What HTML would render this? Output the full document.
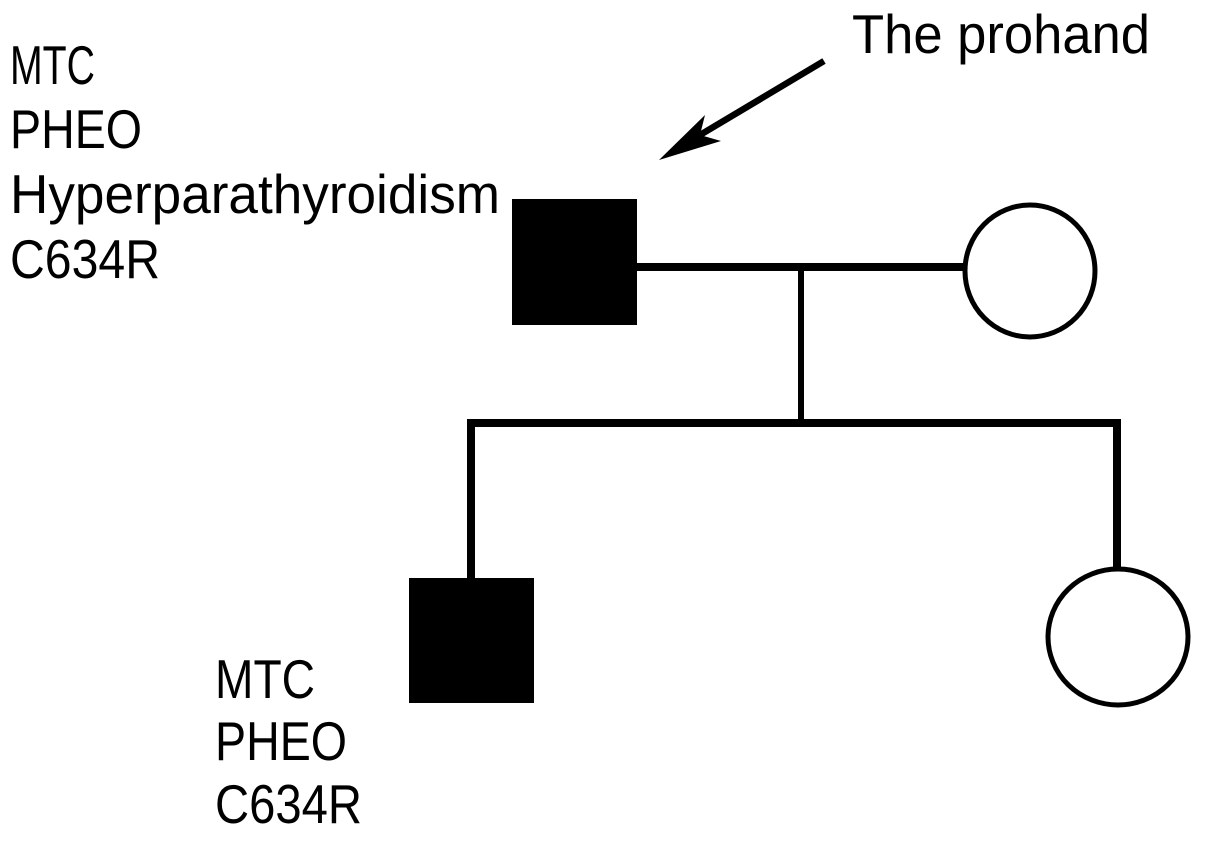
<!DOCTYPE html>
<html><head><meta charset="utf-8"><style>html,body{margin:0;padding:0;background:#fff}svg{display:block}</style></head>
<body>
<svg width="1205" height="843" viewBox="0 0 1205 843" xmlns="http://www.w3.org/2000/svg" font-family="'Liberation Sans Narrow','Liberation Sans',sans-serif" font-size="55" fill="#000">
<text x="10" y="84" textLength="85" lengthAdjust="spacingAndGlyphs">MTC</text>
<text x="10" y="148" textLength="132" lengthAdjust="spacingAndGlyphs">PHEO</text>
<text x="10" y="213" textLength="490" lengthAdjust="spacingAndGlyphs">Hyperparathyroidism</text>
<text x="10" y="278" textLength="150" lengthAdjust="spacingAndGlyphs">C634R</text>
<text x="215" y="698" textLength="100" lengthAdjust="spacingAndGlyphs">MTC</text>
<text x="215" y="760" textLength="132" lengthAdjust="spacingAndGlyphs">PHEO</text>
<text x="215" y="823" textLength="147" lengthAdjust="spacingAndGlyphs">C634R</text>
<text x="852" y="53" textLength="298" lengthAdjust="spacingAndGlyphs">The prohand</text>
<line x1="824" y1="61" x2="700" y2="135" stroke="#000" stroke-width="6.5"/>
<polygon points="659,160 705,115 700,135 721,141" fill="#000"/>
<rect x="512" y="199" width="125" height="126" fill="#000"/>
<line x1="637" y1="267" x2="965" y2="267" stroke="#000" stroke-width="8"/>
<ellipse cx="1030" cy="271" rx="65" ry="66" fill="#fff" stroke="#000" stroke-width="5"/>
<line x1="801" y1="267" x2="801" y2="422" stroke="#000" stroke-width="6"/>
<path d="M471,578 V423 H1117 V570" fill="none" stroke="#000" stroke-width="8"/>
<rect x="409" y="578" width="125" height="125" fill="#000"/>
<ellipse cx="1118" cy="637" rx="70" ry="68" fill="#fff" stroke="#000" stroke-width="5"/>
</svg>
</body></html>
